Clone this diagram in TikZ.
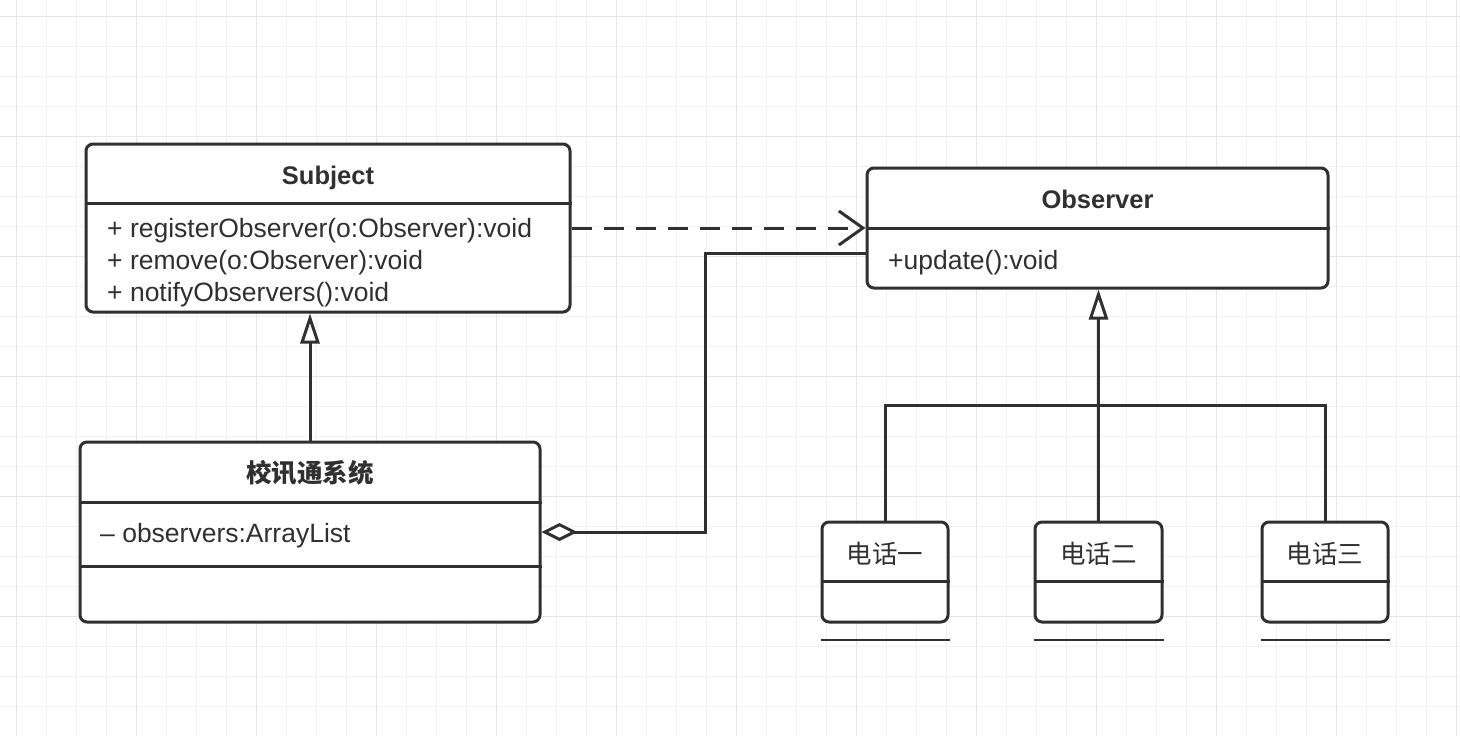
\documentclass[tikz,border=0pt]{standalone}
\usepackage{fontspec}
\setmainfont{Liberation Sans}
\newfontfamily\cjk{Noto Sans CJK SC}
\usetikzlibrary{arrows.meta}

\definecolor{ink}{HTML}{303030}
\definecolor{gridminor}{HTML}{F2F2F2}
\definecolor{gridmajor}{HTML}{E6E6E6}

\begin{document}
\begin{tikzpicture}[x=1pt,y=-1pt,
  cls/.style={draw=ink, line width=3pt, rounded corners=7pt, fill=white, inner sep=0pt},
  sep/.style={draw=ink, line width=3pt},
  title/.style={font=\fontsize{25.5}{32}\selectfont\bfseries, text=ink, anchor=base, inner sep=0pt},
  member/.style={font=\fontsize{26.5}{32}\selectfont, text=ink, anchor=base west, inner sep=0pt},
  link/.style={draw=ink, line width=3pt, line join=miter},
  inherit/.style={link, -{Triangle[length=30pt, width=19pt, fill=white]}},
  depend/.style={link, dash pattern=on 20pt off 12pt, -{Straight Barb[length=24pt, width=34pt]}},
  aggregate/.style={link, {Diamond[length=36pt, width=18pt, fill=white]}-}
]

% Background and grid
\useasboundingbox (0,0) rectangle (1460,736);
\fill[white] (0,0) rectangle (1460,736);
\foreach \g in {16.7,46.7,...,1460} {
  \draw[gridminor, line width=1.2pt] (\g,0) -- (\g,736);
  \draw[gridminor, line width=1.2pt] (0,\g) -- (1460,\g);
}
\foreach \g in {16.7,136.7,...,1460} {
  \draw[gridmajor, line width=1.2pt] (\g,0) -- (\g,736);
  \draw[gridmajor, line width=1.2pt] (0,\g) -- (1460,\g);
}

% Class boxes
\node[cls, minimum width=484pt, minimum height=168pt] (subject) at (328,228) {};
\node[cls, minimum width=461pt, minimum height=120pt] (observer) at (1097.5,228) {};
\node[cls, minimum width=460pt, minimum height=180pt] (school) at (310,532) {};
\node[cls, minimum width=126pt, minimum height=100pt] (phone1) at (885,572) {};
\node[cls, minimum width=127pt, minimum height=100pt] (phone2) at (1098.5,572) {};
\node[cls, minimum width=126pt, minimum height=100pt] (phone3) at (1325,572) {};

% Compartment lines
\draw[sep] (subject.west |- 0,203) -- (subject.east |- 0,203);
\draw[sep] (observer.west |- 0,228) -- (observer.east |- 0,228);
\draw[sep] (school.west |- 0,502) -- (school.east |- 0,502);
\draw[sep] (school.west |- 0,566) -- (school.east |- 0,566);
\foreach \p in {phone1,phone2,phone3} {
  \draw[sep] (\p.west |- 0,581) -- (\p.east |- 0,581);
  \draw[ink, line width=2pt] (\p.west |- 0,640) -- (\p.east |- 0,640);
}

% Names and members
\node[title] (subjectname) at (328,184) {Subject};
\node[member] (register) at (107,237) {+ registerObserver(o:Observer):void};
\node[member] (remove) at (107,269) {+ remove(o:Observer):void};
\node[member] (notify) at (107,301) {+ notifyObservers():void};

\node[title] (observername) at (1097.5,208) {Observer};
\node[member] (update) at (888,269) {+update():void};

\node[title, font=\fontsize{25.5}{32}\selectfont\cjk\bfseries] (schoolname) at (310,482) {校讯通系统};
\node[member] (observers) at (100,542) {– observers:ArrayList};

\node[title, font=\fontsize{25.5}{32}\selectfont\cjk] (phonename1) at (885,563) {电话一};
\node[title, font=\fontsize{25.5}{32}\selectfont\cjk] (phonename2) at (1098.5,563) {电话二};
\node[title, font=\fontsize{25.5}{32}\selectfont\cjk] (phonename3) at (1325,563) {电话三};

% Relations
\draw[inherit] (school.north) -- (school.north |- subject.south);
\draw[depend] (subject.east) -- (observer.west);
\coordinate (bend) at (705,253);
\draw[aggregate] (school.east) -| (bend) -- (bend -| observer.west);

\coordinate (bus) at (1098.5,405);
\draw[link] (phone1.north) |- (bus) -| (phone3.north);
\draw[inherit] (phone2.north) -- (phone2.north |- observer.south);

\end{tikzpicture}
\end{document}
